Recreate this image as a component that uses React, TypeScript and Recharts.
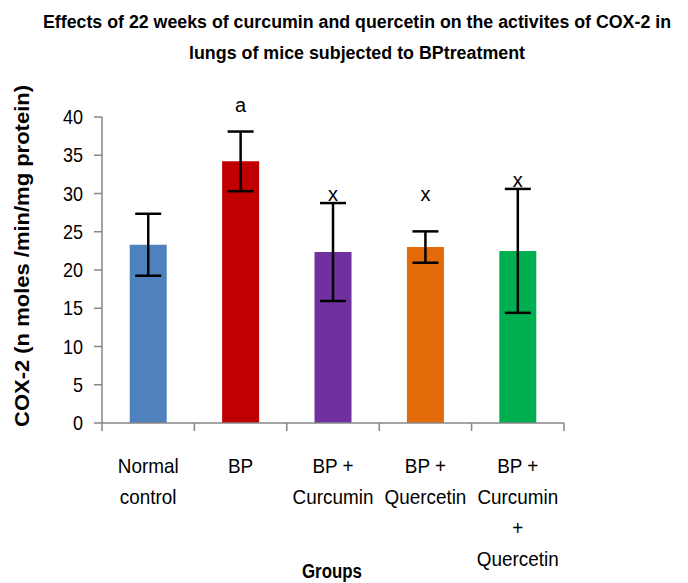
import React from 'react';
import { BarChart, Bar, XAxis, YAxis, Cell, ErrorBar, LabelList } from 'recharts';

const categories = ['Normal control', 'BP', 'BP + Curcumin', 'BP + Quercetin', 'BP + Curcumin + Quercetin'];
const tickLines = [['Normal', 'control'], ['BP'], ['BP +', 'Curcumin'], ['BP +', 'Quercetin'], ['BP +', 'Curcumin', '+', 'Quercetin']];
const values = [23.3, 34.2, 22.35, 23.0, 22.5];
const errors = [4.05, 3.9, 6.4, 2.05, 8.1];
const letters = ['', 'a', 'x', 'x', 'x'];
const letterPos = [0, 41.6, 30.0, 30.0, 31.7];
const colors = ['#4F81BD', '#C00000', '#7030A0', '#E36C09', '#00B050'];
const yTicks = [0, 5, 10, 15, 20, 25, 30, 35, 40];
const titleLines = ['Effects of 22 weeks of curcumin and quercetin on the activites of COX-2 in', 'lungs of mice subjected to BPtreatment'];
const yLabel = 'COX-2 (n moles /min/mg protein)';
const xLabel = 'Groups';

const data = categories.map((c, i) => ({ name: c, value: values[i], err: errors[i], letter: letters[i], pos: letterPos[i] }));

const W = 688;
const H = 583;
const X_AXIS_H = 60;
const margin = { top: 117, right: 124, bottom: 160 - X_AXIS_H, left: 52 };
const Y_AXIS_W = 50;
const PLOT_LEFT = margin.left + Y_AXIS_W;
const PLOT_W = W - margin.right - PLOT_LEFT;
const PLOT_BOTTOM = H - 160;
const BAND = PLOT_W / categories.length;
const FONT = '"Liberation Sans", Arial, sans-serif';
const SX = 0.9;

const XTick = (props: any) => {
  const { x, index } = props;
  const lines = tickLines[index] || [];
  return (
    <g>
      <line x1={x - BAND / 2} x2={x - BAND / 2} y1={PLOT_BOTTOM} y2={PLOT_BOTTOM + 8} stroke="#868686" strokeWidth={1.5} />
      {index === categories.length - 1 && (
        <line x1={x + BAND / 2} x2={x + BAND / 2} y1={PLOT_BOTTOM} y2={PLOT_BOTTOM + 8} stroke="#868686" strokeWidth={1.5} />
      )}
      {lines.map((l, i) => (
        <text
          key={i}
          transform={`translate(${x},${PLOT_BOTTOM + 50 + i * 31}) scale(${SX},1)`}
          textAnchor="middle"
          fontFamily={FONT}
          fontSize={21}
          fill="#000"
        >
          {l}
        </text>
      ))}
    </g>
  );
};

const YTick = (props: any) => {
  const { x, y, payload } = props;
  return (
    <text transform={`translate(${x},${y}) scale(${SX},1)`} dy="0.36em" textAnchor="end" fontFamily={FONT} fontSize={20} fill="#000">
      {payload.value}
    </text>
  );
};

const LetterLabel = (props: any) => {
  const { x, y, width, height, index } = props;
  const d = data[index];
  if (!d || !d.letter) return null;
  const ppu = height / d.value;
  const cy = y + height - d.pos * ppu;
  return (
    <text x={x + width / 2} y={cy} dy="0.35em" textAnchor="middle" fontFamily={FONT} fontSize={20} fill="#000">
      {d.letter}
    </text>
  );
};

export default function App() {
  return (
    <div style={{ position: 'absolute', left: 0, top: 0, width: W, height: H, background: '#fff' }}>
      <BarChart width={W} height={H} data={data} margin={margin} barCategoryGap="30%">
        <XAxis
          dataKey="name"
          tick={<XTick />}
          tickLine={false}
          axisLine={{ stroke: '#868686', strokeWidth: 1.5 }}
          interval={0}
          height={X_AXIS_H}
        />
        <YAxis
          domain={[0, 40]}
          ticks={yTicks}
          interval={0}
          width={Y_AXIS_W}
          tickSize={8}
          tickMargin={11}
          axisLine={{ stroke: '#868686', strokeWidth: 1.5 }}
          tickLine={{ stroke: '#868686', strokeWidth: 1.5 }}
          tick={<YTick />}
          label={{
            content: () => (
              <text
                x={22}
                y={256}
                transform="rotate(-90 22 256)"
                textAnchor="middle"
                dominantBaseline="central"
                fontFamily={FONT}
                fontWeight="bold"
                fontSize={20}
                textLength={342}
                lengthAdjust="spacingAndGlyphs"
                fill="#000"
              >
                {yLabel}
              </text>
            ),
          }}
        />
        <Bar dataKey="value" isAnimationActive={false}>
          {data.map((d, i) => (
            <Cell key={i} fill={colors[i]} />
          ))}
          <ErrorBar dataKey="err" width={13} strokeWidth={2.5} stroke="#000" direction="y" />
          <LabelList dataKey="letter" content={<LetterLabel />} />
        </Bar>
      </BarChart>
      <svg width={W} height={H} style={{ position: 'absolute', left: 0, top: 0, pointerEvents: 'none' }}>
        <text x={357} y={28} textAnchor="middle" fontFamily={FONT} fontWeight="bold" fontSize={18} textLength={628} lengthAdjust="spacingAndGlyphs" fill="#000">
          {titleLines[0]}
        </text>
        <text x={357} y={59} textAnchor="middle" fontFamily={FONT} fontWeight="bold" fontSize={18} textLength={336} lengthAdjust="spacingAndGlyphs" fill="#000">
          {titleLines[1]}
        </text>
        <text x={332} y={578} textAnchor="middle" fontFamily={FONT} fontWeight="bold" fontSize={20} textLength={60} lengthAdjust="spacingAndGlyphs" fill="#000">
          {xLabel}
        </text>
      </svg>
    </div>
  );
}
